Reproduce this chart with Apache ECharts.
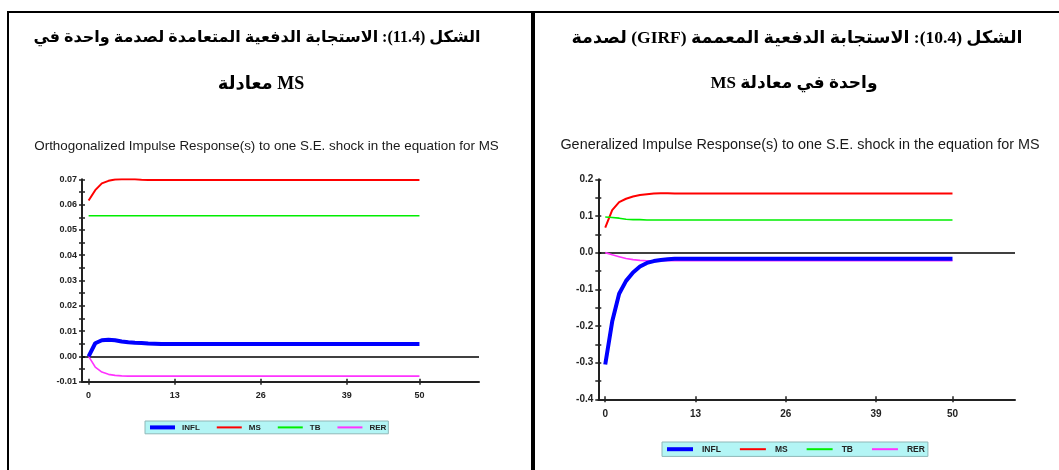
<!DOCTYPE html>
<html><head><meta charset="utf-8">
<script src="https://cdn.jsdelivr.net/npm/echarts@6/dist/echarts.min.js"></script>
<style>
html,body{margin:0;padding:0;background:#fff;width:1059px;height:470px;overflow:hidden;}
#wrap{position:relative;width:1059px;height:470px;overflow:hidden;}
.cell{position:absolute;border:2px solid #000;border-bottom:none;box-sizing:content-box;}
.hd{position:absolute;width:600px;text-align:center;font-family:'Liberation Serif','DejaVu Sans',serif;font-weight:bold;line-height:24px;color:#000;white-space:nowrap;}
#chart{position:absolute;left:0;top:0;width:1059px;height:470px;}
</style></head>
<body><div id="wrap">
<div class="cell" style="left:7px;top:11px;width:522px;height:480px;"></div>
<div class="cell" style="left:533px;top:11px;width:560px;height:480px;border-right:none;"></div>
<div id="chart"></div>
<div class="hd" dir="rtl" style="left:-43px;top:25px;font-size:16px;">الشكل (11.4): الاستجابة الدفعية المتعامدة لصدمة واحدة في</div>
<div class="hd" dir="ltr" style="left:-39px;top:71px;font-size:18px;">معادلة MS</div>
<div class="hd" dir="rtl" style="left:497px;top:25px;font-size:17.5px;">الشكل (10.4): الاستجابة الدفعية المعممة (GIRF) لصدمة</div>
<div class="hd" dir="rtl" style="left:494px;top:71px;font-size:17px;">واحدة في معادلة MS</div>
</div>
<script>
const horizons = [0,1,2,3,4,5,6,7,8,9,10,11,12,13,14,15,16,17,18,19,20,21,22,23,24,25,26,27,28,29,30,31,32,33,34,35,36,37,38,39,40,41,42,43,44,45,46,47,48,49,50];
const xTickValues = [0, 13, 26, 39, 50];
const seriesNames = ['INFL', 'MS', 'TB', 'RER'];

// Orthogonalized impulse responses (left chart)
const orthINFL = [0.0000,0.0052,0.0064,0.0066,0.0064,0.0059,0.0056,0.0054,0.0053,0.0051,0.0050,
  0.0049,0.0049,0.0049,0.0049,0.0049,0.0049,0.0049,0.0049,0.0049,0.0049,
  0.0049,0.0049,0.0049,0.0049,0.0049,0.0049,0.0049,0.0049,0.0049,0.0049,
  0.0049,0.0049,0.0049,0.0049,0.0049,0.0049,0.0049,0.0049,0.0049,0.0049,
  0.0049,0.0049,0.0049,0.0049,0.0049,0.0049,0.0049,0.0049,0.0049,0.0049];
const orthMS = [0.0616,0.0657,0.0684,0.0694,0.0699,0.0700,0.0700,0.0700,0.0698,
  0.0697,0.0697,0.0697,0.0697,0.0697,0.0697,0.0697,0.0697,0.0697,0.0697,0.0697,0.0697,
  0.0697,0.0697,0.0697,0.0697,0.0697,0.0697,0.0697,0.0697,0.0697,0.0697,0.0697,
  0.0697,0.0697,0.0697,0.0697,0.0697,0.0697,0.0697,0.0697,0.0697,0.0697,0.0697,
  0.0697,0.0697,0.0697,0.0697,0.0697,0.0697,0.0697,0.0697];
const orthTB = [0.0556,0.0556,0.0556,0.0556,0.0556,0.0556,0.0556,0.0556,0.0556,0.0556,0.0556,
  0.0556,0.0556,0.0556,0.0556,0.0556,0.0556,0.0556,0.0556,0.0556,0.0556,
  0.0556,0.0556,0.0556,0.0556,0.0556,0.0556,0.0556,0.0556,0.0556,0.0556,
  0.0556,0.0556,0.0556,0.0556,0.0556,0.0556,0.0556,0.0556,0.0556,0.0556,
  0.0556,0.0556,0.0556,0.0556,0.0556,0.0556,0.0556,0.0556,0.0556,0.0556];
const orthRER = [0.0000,-0.0042,-0.0062,-0.0071,-0.0075,-0.0077,
  -0.0078,-0.0078,-0.0078,-0.0078,-0.0078,-0.0078,-0.0078,-0.0078,-0.0078,
  -0.0078,-0.0078,-0.0078,-0.0078,-0.0078,-0.0078,-0.0078,-0.0078,-0.0078,-0.0078,
  -0.0078,-0.0078,-0.0078,-0.0078,-0.0078,-0.0078,-0.0078,-0.0078,-0.0078,-0.0078,
  -0.0078,-0.0078,-0.0078,-0.0078,-0.0078,-0.0078,-0.0078,-0.0078,-0.0078,-0.0078,
  -0.0078,-0.0078,-0.0078,-0.0078,-0.0078,-0.0078];

// Generalized impulse responses (right chart)
const genINFL = [-0.305,-0.188,-0.112,-0.077,-0.054,-0.038,-0.028,-0.023,-0.020,-0.018,-0.017,
  -0.017,-0.017,-0.017,-0.017,-0.017,-0.017,-0.017,-0.017,-0.017,-0.017,
  -0.017,-0.017,-0.017,-0.017,-0.017,-0.017,-0.017,-0.017,-0.017,-0.017,
  -0.017,-0.017,-0.017,-0.017,-0.017,-0.017,-0.017,-0.017,-0.017,-0.017,
  -0.017,-0.017,-0.017,-0.017,-0.017,-0.017,-0.017,-0.017,-0.017,-0.017];
const genMS = [0.068,0.116,0.138,0.147,0.153,0.157,0.159,0.161,0.162,0.162,
  0.161,0.161,0.161,0.161,0.161,0.161,0.161,0.161,0.161,0.161,0.161,
  0.161,0.161,0.161,0.161,0.161,0.161,0.161,0.161,0.161,0.161,
  0.161,0.161,0.161,0.161,0.161,0.161,0.161,0.161,0.161,0.161,
  0.161,0.161,0.161,0.161,0.161,0.161,0.161,0.161,0.161,0.161];
const genTB = [0.097,0.096,0.094,0.091,0.090,0.090,
  0.089,0.089,0.089,0.089,0.089,0.089,0.089,0.089,0.089,
  0.089,0.089,0.089,0.089,0.089,0.089,0.089,0.089,0.089,0.089,
  0.089,0.089,0.089,0.089,0.089,0.089,0.089,0.089,0.089,0.089,
  0.089,0.089,0.089,0.089,0.089,0.089,0.089,0.089,0.089,0.089,
  0.089,0.089,0.089,0.089,0.089,0.089];
const genRER = [0.000,-0.006,-0.011,-0.016,-0.019,-0.021,
  -0.022,-0.022,-0.022,-0.022,-0.022,-0.022,-0.022,-0.022,-0.022,
  -0.022,-0.022,-0.022,-0.022,-0.022,-0.022,-0.022,-0.022,-0.022,-0.022,
  -0.022,-0.022,-0.022,-0.022,-0.022,-0.022,-0.022,-0.022,-0.022,-0.022,
  -0.022,-0.022,-0.022,-0.022,-0.022,-0.022,-0.022,-0.022,-0.022,-0.022,
  -0.022,-0.022,-0.022,-0.022,-0.022,-0.022];

const leftTitle = 'Orthogonalized Impulse Response(s) to one S.E. shock in the equation for MS';
const rightTitle = 'Generalized Impulse Response(s) to one S.E. shock in the equation for MS';

const colors = {INFL: '#0000ff', MS: '#ff0000', TB: '#00ee00', RER: '#ff33ff'};
const widths = {INFL: 4, MS: 2, TB: 1.6, RER: 1.6};
const labelFont = "'Liberation Sans',Arial,sans-serif";
const axisColor = '#222';

function pairs(vals) { return horizons.map((h, i) => [h, vals[i]]); }

function xAxes(grid, fs, margin) {
  return [
    {gridIndex: grid, type: 'value', min: -1, max: 59, position: 'bottom',
     axisLine: {show: true, onZero: false, lineStyle: {color: axisColor, width: 2}},
     axisTick: {show: true, customValues: xTickValues, length: 3, lineStyle: {color: axisColor, width: 1.5}},
     axisLabel: {customValues: xTickValues, margin: margin, fontSize: fs, fontWeight: 'bold', fontFamily: labelFont, color: axisColor},
     splitLine: {show: false}},
    {gridIndex: grid, type: 'value', min: -1, max: 59, position: 'bottom',
     axisLine: {show: false, onZero: false},
     axisTick: {show: true, inside: true, customValues: xTickValues, length: 3, lineStyle: {color: axisColor, width: 1.5}},
     axisLabel: {show: false}, splitLine: {show: false}}
  ];
}
function yAxes(grid, min, max, interval, digits, fs) {
  const common = {gridIndex: grid, type: 'value', min: min, max: max, interval: interval, position: 'left', splitLine: {show: false}};
  return [
    Object.assign({}, common, {
      axisLine: {show: true, onZero: false, lineStyle: {color: axisColor, width: 2}},
      axisTick: {show: true, length: 3, lineStyle: {color: axisColor, width: 1.5}},
      minorTick: {show: true, splitNumber: 2, length: 3, lineStyle: {color: axisColor, width: 1.5}},
      axisLabel: {margin: 5, fontSize: fs, fontWeight: 'bold', fontFamily: labelFont, color: axisColor,
                  formatter: v => v.toFixed(digits)}
    }),
    Object.assign({}, common, {
      axisLine: {show: false, onZero: false},
      axisTick: {show: true, inside: true, length: 3, lineStyle: {color: axisColor, width: 1.5}},
      minorTick: {show: true, splitNumber: 2, length: 3, lineStyle: {color: axisColor, width: 1.5}},
      axisLabel: {show: false}
    })
  ];
}

function lineSeries(name, vals, xi, yi, withZero) {
  const s = {name: name, type: 'line', xAxisIndex: xi, yAxisIndex: yi, data: pairs(vals),
    symbol: 'none', showSymbol: false, silent: true, animation: false,
    z: name === 'INFL' ? 4 : 3,
    lineStyle: {color: colors[name], width: widths[name]}, itemStyle: {color: colors[name]}};
  if (withZero) {
    s.markLine = {silent: true, symbol: ['none', 'none'], label: {show: false}, animation: false,
      lineStyle: {color: '#000', width: 1.5, type: 'solid'}, data: [{yAxis: 0}], z: 1};
  }
  return s;
}

function legendData(scale) {
  return seriesNames.map(n => ({name: n, itemStyle: {opacity: 0},
    lineStyle: {color: colors[n], width: n === 'INFL' ? 4 * scale : 2 * scale, opacity: 1}}));
}

const leftData = {INFL: orthINFL, MS: orthMS, TB: orthTB, RER: orthRER};
const rightData = {INFL: genINFL, MS: genMS, TB: genTB, RER: genRER};

const series = [];
seriesNames.forEach((n, i) => series.push(lineSeries(n, leftData[n], 0, 0, i === 0)));
seriesNames.forEach((n, i) => series.push(lineSeries(n, rightData[n], 2, 2, i === 0)));

const chart = echarts.init(document.getElementById('chart'), null, {renderer: 'canvas'});
chart.setOption({
  animation: false,
  backgroundColor: 'transparent',
  grid: [
    {left: 82, top: 179.3, width: 397, height: 202.4},
    {left: 598.3, top: 179.3, width: 416.7, height: 220}
  ],
  xAxis: xAxes(0, 9, 9).concat(xAxes(1, 10, 10)),
  yAxis: yAxes(0, -0.01, 0.07, 0.01, 2, 9).concat(yAxes(1, -0.4, 0.2, 0.1, 1, 10)),
  legend: [
    {data: legendData(1), left: 145, top: 421, orient: 'horizontal', selectedMode: false,
     backgroundColor: '#b3f5f5', borderColor: '#8fb8b8', borderWidth: 1,
     padding: [2, 2, 2, 3], itemWidth: 25, itemHeight: 11, itemGap: 16,
     itemStyle: {opacity: 0},
     textStyle: {fontSize: 8, fontWeight: 'bold', fontFamily: labelFont, color: '#222', padding: [0, 0, 0, 2]}},
    {data: legendData(1), left: 662, top: 442, orient: 'horizontal', selectedMode: false,
     backgroundColor: '#b3f5f5', borderColor: '#8fb8b8', borderWidth: 1,
     padding: [2, 3, 2, 3], itemWidth: 26, itemHeight: 13, itemGap: 18,
     itemStyle: {opacity: 0},
     textStyle: {fontSize: 8.5, fontWeight: 'bold', fontFamily: labelFont, color: '#222', padding: [0, 0, 0, 4]}}
  ],
  graphic: [
    {type: 'text', x: 266.5, y: 146, silent: true,
     style: {text: leftTitle, fontSize: 13.4, fontFamily: labelFont, fill: '#1a1a1a', align: 'center', verticalAlign: 'middle'}},
    {type: 'text', x: 800, y: 145, silent: true,
     style: {text: rightTitle, fontSize: 14.4, fontFamily: labelFont, fill: '#1a1a1a', align: 'center', verticalAlign: 'middle'}}
  ],
  series: series
});
</script>
</body></html>
